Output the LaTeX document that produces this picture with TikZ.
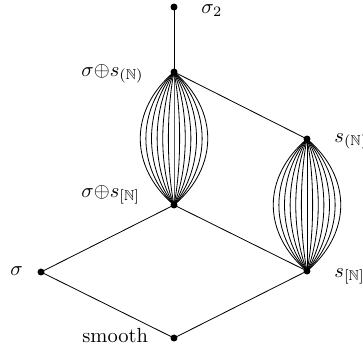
\documentclass[tikz,border=0pt]{standalone}
\usepackage{amssymb}
\usetikzlibrary{calc}
\begin{document}
\begin{tikzpicture}[x=0.488pt,y=-0.488pt,
  dot/.style={circle,fill=black,inner sep=0pt,minimum size=3.4pt},
  lbl/.style={inner sep=0pt},
  edge/.style={line width=0.4pt},
  lensline/.style={line width=0.4pt}]
\useasboundingbox (0,0) rectangle (363,349);
\node[dot] (top) at (174,7) {};
\node[dot] (sp) at (174,72) {};
\node[dot] (sb) at (174,205) {};
\node[dot] (np) at (307,139) {};
\node[dot] (nb) at (307,271) {};
\node[dot] (sig) at (41,272) {};
\node[dot] (sm) at (174,338) {};
\node[lbl,anchor=base west] (ltop) at (201,13) {$\sigma_2$};
\node[lbl,anchor=base west] (lsp) at (81,76) {$\sigma{\oplus}s_{(\mathbb{N})}$};
\node[lbl,anchor=base west] (lsb) at (81,197) {$\sigma{\oplus}s_{[\mathbb{N}]}$};
\node[lbl,anchor=base west] (lnp) at (334,142) {$s_{(\mathbb{N})}$};
\node[lbl,anchor=base west] (lnb) at (334,277) {$s_{[\mathbb{N}]}$};
\node[lbl,anchor=base west] (lsig) at (10,275) {$\sigma$};
\node[lbl,anchor=base west] (lsm) at (82,342) {smooth};
\draw[edge] (top.center) -- (sp.center);
\draw[edge] (sp.center) -- (np.center);
\draw[edge] (sb.center) -- (nb.center);
\draw[edge] (sb.center) -- (sig.center);
\draw[edge] (sig.center) -- (sm.center);
\draw[edge] (sm.center) -- (nb.center);
\foreach \w in {-45,-37.5,-30,-22.5,-15,-7.5,0,7.5,15,22.5,30,37.5,45}{
  \draw[lensline] (sp.center) .. controls ($(sp.center)+(\w,38)$) and ($(sb.center)+(\w,-38)$) .. (sb.center);
  \draw[lensline] (np.center) .. controls ($(np.center)+(\w,38)$) and ($(nb.center)+(\w,-38)$) .. (nb.center);
}
\end{tikzpicture}
\end{document}
